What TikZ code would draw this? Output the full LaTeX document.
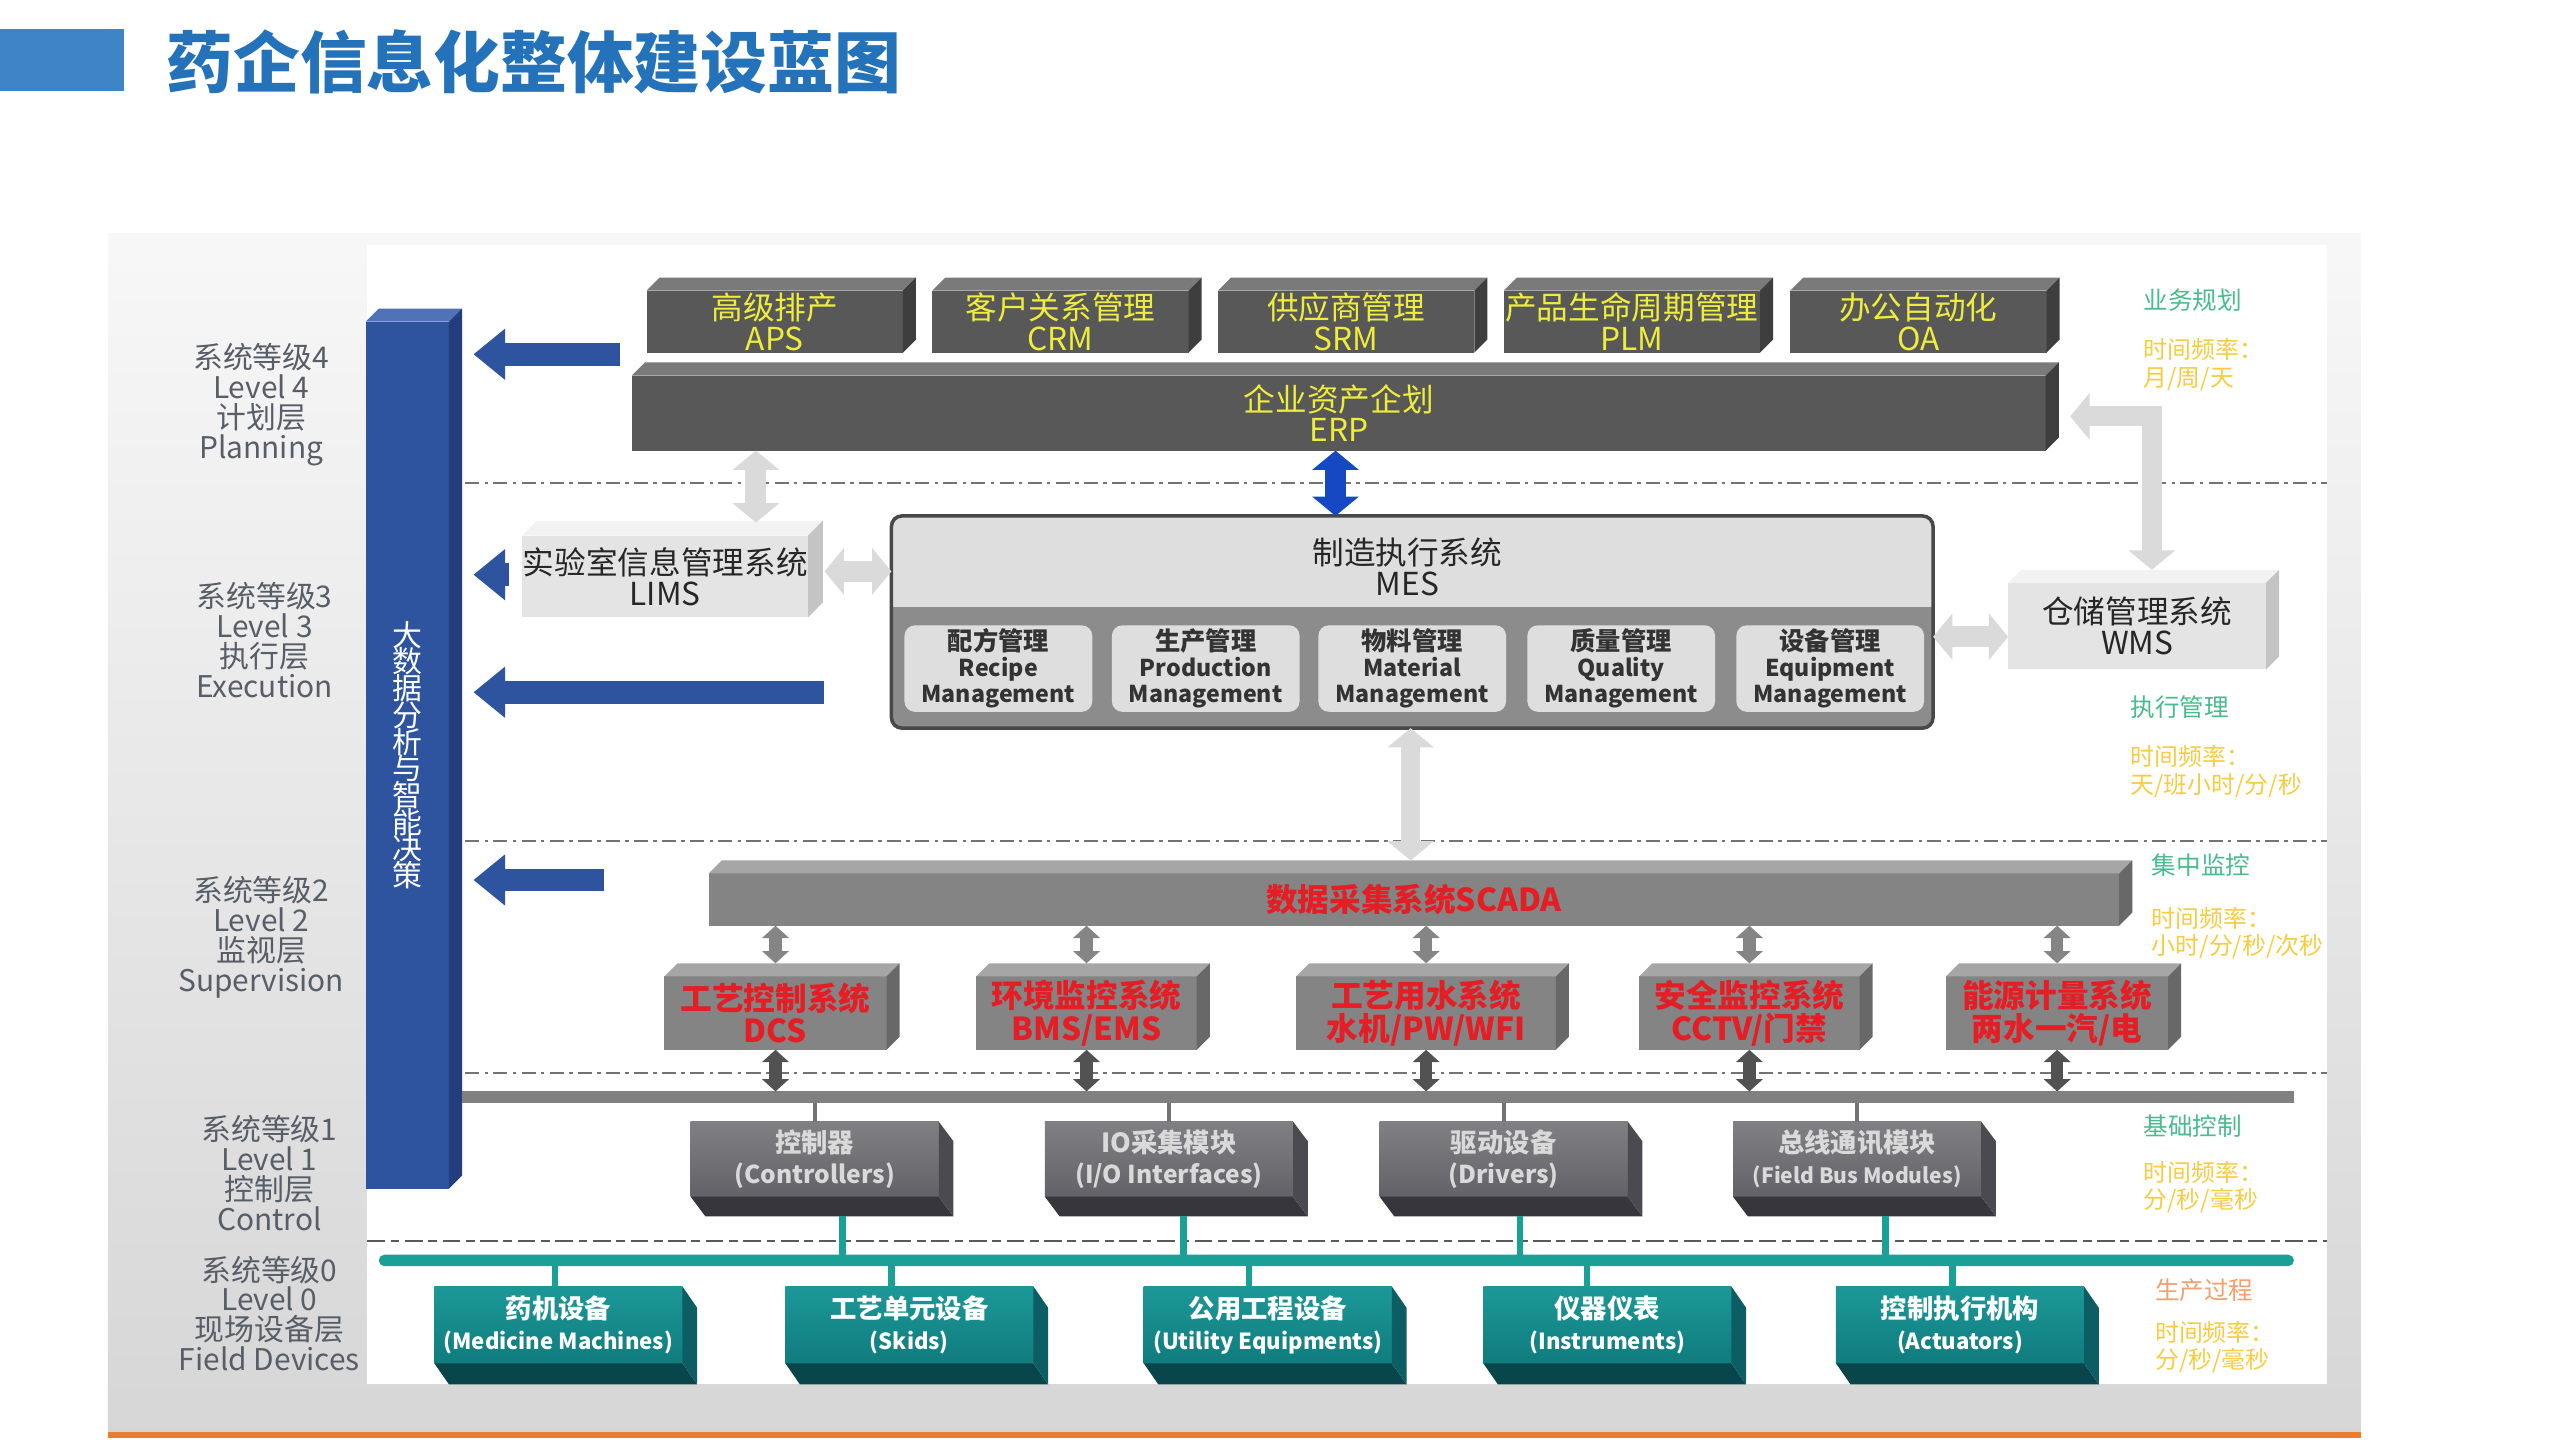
\documentclass[tikz,border=0pt]{standalone}
\usepackage{fontspec}
\setmainfont{Noto Sans CJK SC}
\usepackage{tikz}
\usetikzlibrary{arrows.meta, positioning, calc}
\usepackage{xcolor}
\definecolor{titleblue}{RGB}{36,114,186}
\definecolor{titleblock}{RGB}{61,133,198}
\definecolor{bdblue}{RGB}{46,84,160}
\definecolor{bdtop}{RGB}{80,114,182}
\definecolor{bdside}{RGB}{34,62,125}
\definecolor{darkfront}{RGB}{88,88,88}
\definecolor{darktop}{RGB}{122,122,122}
\definecolor{darkside}{RGB}{62,62,62}
\definecolor{ytext}{RGB}{238,236,60}
\definecolor{lightfront}{RGB}{228,228,228}
\definecolor{lighttop}{RGB}{242,242,242}
\definecolor{lightside}{RGB}{196,196,196}
\definecolor{mesborder}{RGB}{72,72,72}
\definecolor{meslow}{RGB}{140,140,140}
\definecolor{meshigh}{RGB}{222,222,222}
\definecolor{midfront}{RGB}{132,132,132}
\definecolor{midtop}{RGB}{166,166,166}
\definecolor{midside}{RGB}{104,104,104}
\definecolor{rtext}{RGB}{228,30,36}
\definecolor{ctrltop}{RGB}{128,128,132}
\definecolor{ctrlbot}{RGB}{98,98,104}
\definecolor{ctrlside}{RGB}{74,74,80}
\definecolor{ctrlbase}{RGB}{54,54,60}
\definecolor{tealtop}{RGB}{28,152,152}
\definecolor{tealbot}{RGB}{16,124,126}
\definecolor{tealside}{RGB}{12,94,100}
\definecolor{tealbase}{RGB}{8,70,76}
\definecolor{tealbus}{RGB}{26,160,150}
\definecolor{lvgray}{RGB}{88,94,104}
\definecolor{notegreen}{RGB}{72,188,140}
\definecolor{noteyellow}{RGB}{248,204,64}
\definecolor{noteorange}{RGB}{244,160,110}
\definecolor{arrlight}{RGB}{218,218,218}
\definecolor{arrblue}{RGB}{22,72,196}
\definecolor{bottomline}{RGB}{237,125,49}
\newcommand{\ux}{0.016327cm}
\newcommand{\tightfont}[2]{\fontsize{#1}{#2}\selectfont\lineskiplimit=-6pt\lineskip=0pt\relax}
% 3D faces of a box node: depth up-right / down-right
\newcommand{\faceup}[4]{%
  \fill[#2] (#1.north west) -- ++(#4,-#4) -- ($(#1.north east)+(#4,-#4)$) -- (#1.north east) -- cycle;
  \fill[#3] (#1.north east) -- ++(#4,-#4) -- ($(#1.south east)+(#4,-#4)$) -- (#1.south east) -- cycle;}
\newcommand{\facedown}[5]{%
  \fill[#2] (#1.south west) -- ++(#4,#5) -- ($(#1.south east)+(#4,#5)$) -- (#1.south east) -- cycle;
  \fill[#3] (#1.north east) -- ++(#4,#5) -- ($(#1.south east)+(#4,#5)$) -- (#1.south east) -- cycle;}

\begin{document}
\begin{tikzpicture}[
  x=\ux, y=-\ux,
  every node/.style={inner sep=0pt, outer sep=0pt, align=center},
  sz/.style 2 args={minimum width=#1*\ux, minimum height=#2*\ux},
  toprow/.style={fill=darkfront, text=ytext, font=\tightfont{9}{8.8}},
  lightbox/.style={fill=lightfront, text=black!85, font=\tightfont{9}{8.8}},
  mesframe/.style={draw=mesborder, line width=1pt, fill=meslow, rounded corners=3pt,
    path picture={\fill[meshigh, sharp corners] (path picture bounding box.north west)
      rectangle ([yshift=-26pt]path picture bounding box.north east);}},
  mesitem/.style={fill=meshigh, rounded corners=3pt, text=black!80, sz={115}{53},
    font=\tightfont{6.6}{7.4}\bfseries},
  midbox/.style={fill=midfront, text=rtext, font=\tightfont{9}{9.3}\bfseries},
  ctrlbox/.style={top color=ctrltop, bottom color=ctrlbot, text=white!85!black,
    sz={152}{46}, font=\tightfont{7.5}{8.8}\bfseries},
  fieldbox/.style={top color=tealtop, bottom color=tealbot, text=white,
    sz={152}{47}, font=\tightfont{7.5}{8.8}\bfseries},
  lvtext/.style={text=lvgray, font=\tightfont{8.5}{8.5}},
  notehead/.style={anchor=west, text=notegreen, font=\tightfont{7}{7.9}},
  notefreq/.style={anchor=west, align=left, text=noteyellow, font=\tightfont{6.8}{7.9}},
  sepline/.style={draw=black!55, line width=0.6pt, dash pattern=on 4pt off 1.5pt on 1pt off 1.5pt},
  fieldsep/.style={draw=black!65, line width=0.7pt, dash pattern=on 5pt off 1.6pt on 2.5pt off 1.6pt},
  bluearr/.style={draw=bdblue, line width=6.5pt, -{Triangle[width=14pt, length=9pt]}},
  lgarrow/.style={draw=arrlight, line width=6pt,
    {Triangle[width=13pt, length=5.5pt]}-{Triangle[width=13pt, length=5.5pt]}},
  bluedbl/.style={lgarrow, draw=arrblue},
  garrow/.style={draw=black!48, line width=3.6pt,
    {Triangle[width=7.5pt, length=3.5pt]}-{Triangle[width=7.5pt, length=3.5pt]}},
  dgarrow/.style={garrow, draw=black!68},
  gconn/.style={draw=black!55, line width=1.2pt},
  tconn/.style={draw=tealbus, line width=1.9pt}
]
  \useasboundingbox (0,0) rectangle (1568,882);
  \fill[titleblock] (0,18) rectangle (76,56);
  \node[anchor=west, text=titleblue, font=\fontsize{19}{22}\selectfont\bfseries]
    (title) at (102,38) {药企信息化整体建设蓝图};

  \fill[top color=black!3, bottom color=black!16] (66,143) rectangle (1446,880);
  \fill[white] (225,150) rectangle (1425,848);
  \draw[draw=bottomline, line width=1.5pt] (66,879) -- (1446,879);

  \foreach \yy in {296,515,657}
    \draw[sepline] (285,\yy) -- (1425,\yy);
  \draw[fieldsep] (225,760) -- (1425,760);

  % levels
  \node[lvtext] (lv4) at (160,248) {系统等级4\\Level 4\\计划层\\Planning};
  \node[lvtext] (lv3) at (162,392) {系统等级3\\Level 3\\执行层\\Execution};
  \node[lvtext] (lv2) at (160,574) {系统等级2\\Level 2\\监视层\\Supervision};
  \node[lvtext] (lv1) at (165,718.5) {系统等级1\\Level 1\\控制层\\Control};
  \node[lvtext] (lv0) at (165,804.5) {系统等级0\\Level 0\\现场设备层\\Field Devices};

  \node[notehead] (nt4) at (1313,184) {业务规划};
  \node[notefreq] (nf4) at (1313,223.5) {时间频率：\\月/周/天};
  \node[notehead] (nt3) at (1305,433) {执行管理};
  \node[notefreq] (nf3) at (1305,472.5) {时间频率：\\天/班小时/分/秒};
  \node[notehead] (nt2) at (1318,530) {集中监控};
  \node[notefreq] (nf2) at (1318,571.5) {时间频率：\\小时/分/秒/次秒};
  \node[notehead] (nt1) at (1313,690) {基础控制};
  \node[notefreq] (nf1) at (1313,727) {时间频率：\\分/秒/毫秒};
  \node[notehead, text=noteorange] (nt0) at (1320,790) {生产过程};
  \node[notefreq] (nf0) at (1320,825) {时间频率：\\分/秒/毫秒};

  % big data bar
  \node[fill=bdblue, text=white, sz={51}{531}, font=\tightfont{8.5}{7.6}]
    (bigdata) at (249.5,462.5) {大\\数\\据\\分\\析\\与\\智\\能\\决\\策};
  \faceup{bigdata}{bdtop}{bdside}{8}
  \coordinate (a4) at (380,217);
  \coordinate (a3a) at (312,352);
  \coordinate (a3b) at (505,424);
  \coordinate (a2) at (370,539);
  \foreach \c in {a4,a3a,a3b,a2}
    \draw[bluearr] (\c) -- ($(\c -| bigdata.east)+(15,0)$);

  % level 4
  \foreach \nm/\cx/\zh/\en in {aps/474.5/高级排产/APS, crm/649.5/客户关系管理/CRM,
      srm/824.5/供应商管理/SRM, plm/999.5/产品生命周期管理/PLM, oa/1175/办公自动化/OA} {
    \node[toprow, sz={157}{38}] (\nm) at (\cx,197) {\zh\\\en};
    \faceup{\nm}{darktop}{darkside}{8}
  }
  \node[toprow, sz={866}{46}] (erp) at (820,253) {企业资产企划\\ERP};
  \faceup{erp}{darktop}{darkside}{8}

  % level 3
  \node[lightbox, sz={175}{50}] (lims) at (407.5,353) {实验室信息管理系统\\LIMS};
  \faceup{lims}{lighttop}{lightside}{9}
  \node[lightbox, sz={158}{53}] (wms) at (1309,383.5) {仓储管理系统\\WMS};
  \faceup{wms}{lighttop}{lightside}{8}
  \node[mesframe, sz={638}{130}] (mes) at (865,381) {};
  \node[text=black!85, font=\tightfont{9}{8.8}] (mestitle) at (862,347) {制造执行系统\\MES};
  \foreach \nm/\cx/\zh/\en in {mesrec/611.5/配方管理/Recipe, mesprod/738.5/生产管理/Production,
      mesmat/865/物料管理/Material, mesqual/993/质量管理/Quality, mesequip/1121/设备管理/Equipment}
    \node[mesitem] (\nm) at (\cx,409.5) {{\fontsize{7.2}{7.4}\selectfont\zh}\\\en\\Management};

  \draw[lgarrow, shorten >=3.7pt] (erp.south -| 463,0) -- (lims.north -| 463,0);
  \draw[bluedbl] (erp.south -| 818,0) -- (mes.north -| 818,0);
  \draw[lgarrow] ($(lims.east |- 0,350)+(10,0)$) -- (mes.west |- 0,350);
  \draw[lgarrow] (mes.east |- 0,390) -- (wms.west |- 0,390);
  \draw[lgarrow, line width=5.6pt] ($(erp.east |- 0,255)+(15,0)$) -| ($(wms.north -| 1318,0)+(0,-8)$);

  % level 2
  \node[midbox, sz={864}{32}] (scada) at (866,551) {数据采集系统SCADA};
  \faceup{scada}{midtop}{midside}{8}
  \draw[lgarrow, line width=5.6pt, shorten >=3.7pt] (mes.south -| 864,0) -- (scada.north -| 864,0);
  \node[fill=black!50, sz={1122}{7}] (gbus) at (844,672) {};
  \foreach \nm/\cx/\w/\zh/\en in {dcs/475/136/工艺控制系统/DCS, bms/665.5/135/环境监控系统/{BMS/EMS},
      wfi/873.5/159/工艺用水系统/{水机/PW/WFI}, cctv/1071.5/135/安全监控系统/{CCTV/门禁},
      energy/1260/136/能源计量系统/{两水一汽/电}} {
    \node[midbox, sz={\w}{45}] (\nm) at (\cx,620.5) {\zh\\\en};
    \faceup{\nm}{midtop}{midside}{8}
    \draw[garrow, shorten >=3.7pt] (scada.south -| \nm.north) -- (\nm.north);
    \draw[dgarrow] (\nm.south) -- (\nm.south |- gbus.north);
  }

  % level 1
  \node[fill=tealbus, rounded corners=1.6pt, sz={1173}{7}] (tbus) at (818.5,772) {};
  \foreach \nm/\cx/\tx/\zh/\en in {ctrl/499/516/控制器/(Controllers),
      iomod/716/725/IO采集模块/{(I/O Interfaces)}, drv/921/931/驱动设备/(Drivers),
      fbus/1137.5/1155/总线通讯模块/{\fontsize{6}{8.8}\selectfont(Field Bus Modules)}} {
    \node[ctrlbox] (\nm) at (\cx,710) {\zh\\{\fontsize{7}{8.8}\selectfont\en}};
    \facedown{\nm}{ctrlbase}{ctrlside}{9}{12}
    \draw[gconn] (gbus.south -| \nm.north) -- (\nm.north);
    \draw[tconn] (\nm.south -| \tx,0) ++(0,12) -- (tbus.north -| \tx,0);
  }

  % level 0
  \foreach \nm/\cx/\tx/\zh/\en in {medmach/342/340/药机设备/(Medicine Machines),
      skids/557/546/工艺单元设备/(Skids), utility/776.5/765/公用工程设备/(Utility Equipments),
      instr/984.5/972/仪器仪表/(Instruments), actuat/1200.5/1196/控制执行机构/(Actuators)} {
    \node[fieldbox] (\nm) at (\cx,811.5) {\zh\\{\fontsize{6.3}{8.8}\selectfont\en}};
    \facedown{\nm}{tealbase}{tealside}{9}{13}
    \draw[tconn] (tbus.south -| \tx,0) -- (\nm.north -| \tx,0);
  }
\end{tikzpicture}
\end{document}
